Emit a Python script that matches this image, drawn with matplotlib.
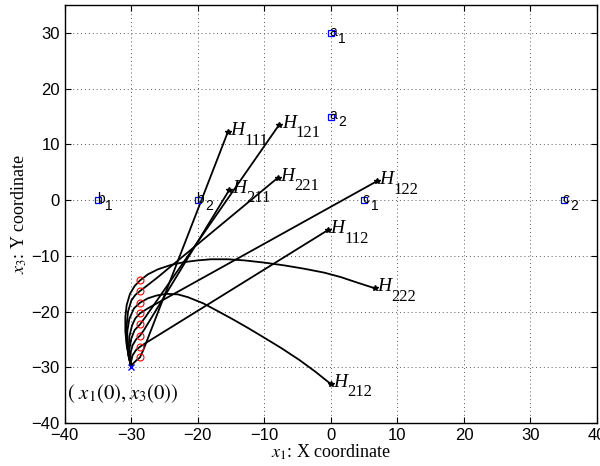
import numpy as np
import matplotlib
matplotlib.use('Agg')
import matplotlib.pyplot as plt

plt.rcParams['mathtext.fontset'] = 'stix'

# landmarks (blue squares)
land_base = ['a', 'a', 'b', 'b', 'c', 'c']
land_sub = ['1', '2', '1', '2', '1', '2']
land_x = [0, 0, -35, -20, 5, 35]
land_y = [30, 15, 0, 0, 0, 0]

# start point
x0, y0 = -30, -30

# red circles
circ_x = [-28.7, -28.7, -28.7, -28.7, -28.7, -28.7, -28.7, -28.7]
circ_y = [-14.4, -16.3, -18.4, -20.3, -22.3, -24.3, -26.3, -28.2]

# end points (H)
h_names = ['222', '221', '212', '122', '121', '211', '112', '111']
h_x = [6.6, -8.0, 0.0, 6.9, -7.8, -15.3, -0.5, -15.5]
h_y = [-15.8, 4.0, -33.0, 3.4, 13.5, 1.8, -5.4, 12.2]

# trajectories
traj_x = [
    [-30, -30.4, -30.7, -30.9, -30.9, -30.7, -30.2, -29.5, -28.7, -27.5, -26, -24, -22, -20, -18,
     -15.5, -13, -10, -7, -4, -1, 1.5, 4, 6.6],
    [-30, -30.4, -30.7, -30.7, -30.5, -30.0, -29.4, -28.7, -27.5, -26, -8.0],
    [-30, -30.4, -30.6, -30.6, -30.3, -29.6, -28.7, -27.5, -26.2, -24.7, -23, -21.5, -19.2, -17,
     -14.7, -12.5, -10.4, -7.5, -4.7, -2.3, 0],
    [-30, -30.3, -30.4, -30.3, -29.9, -29.4, -28.7, -27.5, 6.9],
    [-30, -30.25, -30.3, -30.0, -29.5, -28.7, -27.9, -7.8],
    [-30, -30.15, -30.1, -29.8, -29.3, -28.7, -28.1, -15.3],
    [-30, -30.05, -29.8, -29.3, -28.7, -27.8, -0.5],
    [-30, -29.8, -29.3, -28.7, -28.2, -15.5],
]
traj_y = [
    [-30, -28, -26, -23.5, -21, -18.8, -16.8, -15.4, -14.4, -13.3, -12.4, -11.6, -11.1, -10.8, -10.6,
     -10.6, -10.8, -11.2, -11.7, -12.3, -13.0, -13.8, -14.8, -15.8],
    [-30, -28, -25.5, -22.5, -20, -18, -17, -16.3, -15.2, -13.8, 4.0],
    [-30, -28, -26, -23.5, -21.3, -19.4, -18.4, -17.6, -17.1, -16.8, -16.9, -17.4, -18.5, -19.9,
     -21.4, -22.9, -24.4, -26.5, -28.7, -30.8, -33],
    [-30, -28.5, -26.5, -24.5, -22.5, -21.2, -20.3, -19.4, 3.4],
    [-30, -28.5, -26.8, -24.8, -23.3, -22.3, -21.0, 13.5],
    [-30, -28.8, -27.3, -26, -25, -24.3, -23.3, 1.8],
    [-30, -29, -27.8, -26.9, -26.3, -25.6, -5.4],
    [-30, -29.4, -28.8, -28.2, -26.9, 12.2],
]

fig = plt.figure(figsize=(6, 4.66), dpi=100)
ax = fig.add_axes([0.108, 0.092, 0.887, 0.897])

for tx, ty in zip(traj_x, traj_y):
    ax.plot(tx, ty, 'k-', lw=1.3, solid_joinstyle='round')

ax.plot(circ_x, circ_y, 'o', mfc='none', mec='red', ms=5, mew=0.8)
ax.plot(h_x, h_y, '*', color='k', ms=4)
ax.plot(land_x, land_y, 's', mfc='none', mec='blue', ms=5, mew=0.9)
ax.plot([x0], [y0], 'x', color='blue', ms=4)

for n, x, y in zip(h_names, h_x, h_y):
    ax.annotate('H', (x, y), xytext=(2, 1), textcoords='offset points', fontsize=14,
                style='italic', family='Liberation Serif', ha='left', va='center')
    ax.annotate(n, (x, y), xytext=(12, -6), textcoords='offset points', fontsize=12,
                family='Liberation Serif', ha='left', va='center')

for b, s, x, y in zip(land_base, land_sub, land_x, land_y):
    ax.annotate(b, (x, y), xytext=(-1, 1), textcoords='offset points', fontsize=10,
                family='Liberation Sans', ha='left', va='center')
    ax.annotate(s, (x, y), xytext=(5, -4), textcoords='offset points', fontsize=10,
                family='Liberation Sans', ha='left', va='center')

ax.text(-39.6, -34.8, r'$(\ x_{1}(0), x_{3}(0))$', fontsize=15, ha='left', va='center')

ax.set_xlim(-40, 40)
ax.set_ylim(-40, 35)
ax.set_xticks(np.arange(-40, 41, 10))
ax.set_yticks(np.arange(-40, 31, 10))
ax.grid(True, linestyle=(0, (1, 3)), color='0.35', lw=0.7)
ax.tick_params(direction='in', top=True, right=True, labelsize=12, length=4)
for lab in ax.get_xticklabels() + ax.get_yticklabels():
    lab.set_family('Liberation Sans')
for s in ax.spines.values():
    s.set_linewidth(1.0)

ax.set_xlabel(r'$x_1$: X coordinate', fontsize=13, family='Liberation Serif', labelpad=0)
ax.set_ylabel(r'$x_3$: Y coordinate', fontsize=13, family='Liberation Serif', labelpad=2)

fig.savefig('out.png', dpi=100)
